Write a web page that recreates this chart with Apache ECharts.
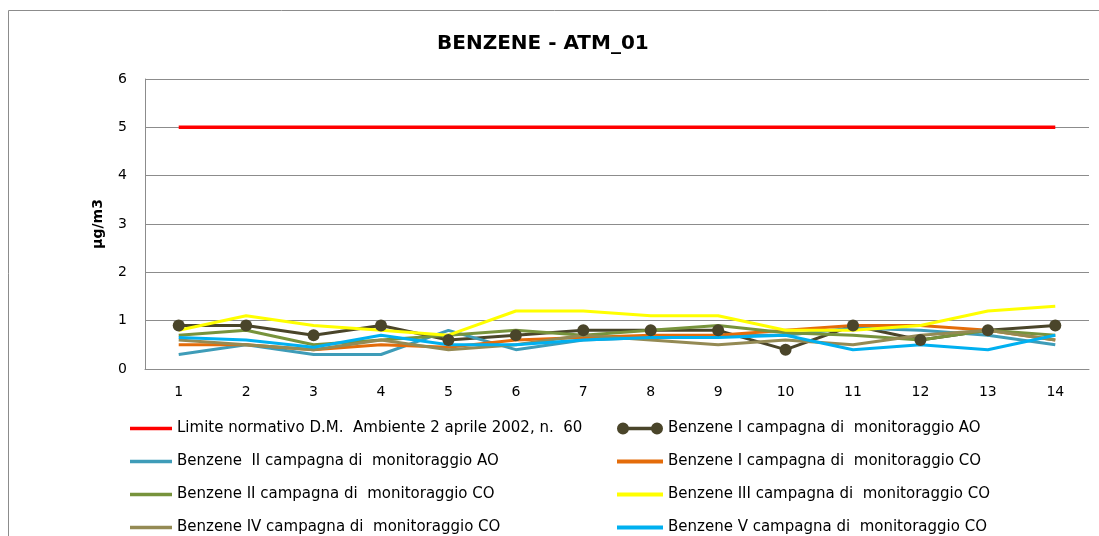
<!DOCTYPE html>
<html><head><meta charset="utf-8">
<script src="https://cdn.jsdelivr.net/npm/echarts@6/dist/echarts.min.js"></script>
<style>html,body{margin:0;padding:0;background:#fff}#c{width:1099px;height:536px}</style>
</head><body><div id="c"></div>
<script>
const categories = ['1','2','3','4','5','6','7','8','9','10','11','12','13','14'];
const yTicks = [0,1,2,3,4,5,6];
const names = [
  'Limite normativo D.M.  Ambiente 2 aprile 2002, n.  60',
  'Benzene I campagna di  monitoraggio AO',
  'Benzene  II campagna di  monitoraggio AO',
  'Benzene I campagna di  monitoraggio CO',
  'Benzene II campagna di  monitoraggio CO',
  'Benzene III campagna di  monitoraggio CO',
  'Benzene IV campagna di  monitoraggio CO',
  'Benzene V campagna di  monitoraggio CO'
];
const limite  = [5,5,5,5,5,5,5,5,5,5,5,5,5,5];
const iAO     = [0.9,0.9,0.7,0.9,0.6,0.7,0.8,0.8,0.8,0.4,0.9,0.6,0.8,0.9];
const iiAO    = [0.3,0.5,0.3,0.3,0.8,0.4,0.6,0.65,0.7,0.7,0.85,0.8,0.7,0.5];
const iCO     = [0.5,0.5,0.4,0.5,0.45,0.6,0.65,0.7,0.7,0.8,0.9,0.9,0.8,0.6];
const iiCO    = [0.7,0.8,0.5,0.6,0.7,0.8,0.7,0.8,0.9,0.75,0.7,0.6,0.8,0.7];
const iiiCO   = [0.8,1.1,0.9,0.8,0.7,1.2,1.2,1.1,1.1,0.8,0.8,0.9,1.2,1.3];
const ivCO    = [0.6,0.5,0.4,0.6,0.4,0.5,0.7,0.6,0.5,0.6,0.5,0.7,0.8,0.6];
const vCO     = [0.65,0.6,0.45,0.7,0.5,0.5,0.6,0.65,0.65,0.7,0.4,0.5,0.4,0.7];

const colors = ['#FF0000','#4A452A','#3E9CB8','#E46C0A','#77933C','#FFFF00','#948A54','#00B0F0'];
const datas = [limite,iAO,iiAO,iCO,iiCO,iiiCO,ivCO,vCO];
const FONT = 'DejaVu Sans';
const lineIcon = 'path://M0,0H42V3.5H0Z';
const markerIcon = 'path://M0,6a6,6 0 1,1 12,0a6,6 0 1,1 -12,0ZM11,4.3H35V7.7H11ZM34,6a6,6 0 1,1 12,0a6,6 0 1,1 -12,0Z';

const series = datas.map((d,i)=>({
  name: names[i], type:'line', data:d,
  symbol: i===1 ? 'circle' : 'none',
  symbolSize: 12, showSymbol: i===1,
  lineStyle:{color:colors[i], width: i===0 ? 3.5 : 3},
  itemStyle:{color:colors[i]},
  z: i===0 ? 3 : 2,
  animation:false
}));

const legendItem = i => ({name:names[i], icon: i===1 ? markerIcon : lineIcon,
  itemStyle:{color:colors[i], borderWidth:0}});

const chart = echarts.init(document.getElementById('c'));
chart.setOption({
  animation:false,
  graphic:[{type:'rect', shape:{x:8.5,y:10.5,width:1200,height:600}, style:{fill:'none',stroke:'#8c8c8c',lineWidth:1}, silent:true}],
  title:{text:'BENZENE - ATM_01', left:432, top:29, textStyle:{fontFamily:FONT, fontSize:20, fontWeight:'bold', color:'#000'}},
  grid:{left:145, right:10, top:79, bottom:167, containLabel:false},
  xAxis:{type:'category', data:categories, boundaryGap:true,
    axisLine:{lineStyle:{color:'#8c8c8c'}}, axisTick:{show:false},
    axisLabel:{fontFamily:FONT, fontSize:14, color:'#000', margin:16}},
  yAxis:{type:'value', min:0, max:6, interval:1, name:'µg/m3', nameLocation:'middle', nameGap:40,
    nameTextStyle:{fontFamily:FONT, fontSize:14, fontWeight:'bold', color:'#000'},
    axisLine:{show:true, lineStyle:{color:'#8c8c8c'}}, axisTick:{show:false},
    splitLine:{lineStyle:{color:'#8c8c8c'}},
    axisLabel:{fontFamily:FONT, fontSize:14, color:'#000', margin:18,
      formatter:v=> yTicks.includes(v) ? String(v) : ''}},
  legend:[
    {orient:'vertical', left:130, top:421, height:200, padding:0, itemWidth:42, itemHeight:12, itemGap:18,
     data:[0,2,4,6].map(legendItem),
     textStyle:{fontFamily:FONT, fontSize:15, color:'#000'}},
    {orient:'vertical', left:617, top:421, height:200, padding:0, itemWidth:46, itemHeight:12, itemGap:18,
     data:[1,3,5,7].map(legendItem),
     textStyle:{fontFamily:FONT, fontSize:15, color:'#000'}}
  ],
  series
});
</script></body></html>
